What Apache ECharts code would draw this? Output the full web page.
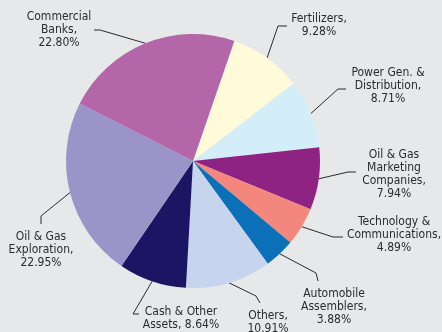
<!DOCTYPE html>
<html>
<head>
<meta charset="utf-8">
<script src="https://cdn.jsdelivr.net/npm/echarts@6/dist/echarts.min.js"></script>
<style>
html,body{margin:0;padding:0;background:#e7e8ea;}
#c{width:442px;height:332px;}
</style>
</head>
<body>
<div id="c"></div>
<script>
// Data (clockwise order starting from top-right)
const categories = ['Fertilizers', 'Power Gen. &\nDistribution', 'Oil & Gas\nMarketing\nCompanies', 'Technology &\nCommunications', 'Automobile\nAssemblers', 'Others', 'Cash & Other\nAssets', 'Oil & Gas\nExploration', 'Commercial\nBanks'];
const values = [9.28, 8.71, 7.94, 4.89, 3.88, 10.91, 8.64, 22.95, 22.80];
const valueSeparators = ['\n', '\n', '\n', '\n', '\n', '\n', ' ', '\n', '\n'];

// Styling
const colors = ['#fffbd8', '#d3eef9', '#8e2383', '#f3877d', '#0b70b8', '#c6d4ee', '#1b1563', '#9b94c8', '#b367a8'];
const labelPos = [[319, 25], [388, 86], [394, 174.5], [394, 235], [334, 307], [268, 322], [181, 318], [41, 250], [59, 30]];
const elbows = [[[278, 26], [287, 26]], [[338, 89], [346, 89]], [[348, 172], [356, 172]], [[333, 237], [343, 237]], [[316, 273], [318, 281]], [[256, 296], [260, 303]], [[133, 314], [139, 314]], [[41, 216], [41, 224]], [[100, 30], [94, 30]]];

// pick a condensed font that is installed
function hasFont(name) {
  const c = document.createElement('canvas').getContext('2d');
  const s = 'Commercial Banks 22.80%';
  c.font = '20px monospace';
  const w1 = c.measureText(s).width;
  c.font = '20px "' + name + '", monospace';
  const w2 = c.measureText(s).width;
  return Math.abs(w1 - w2) > 0.5;
}
let fontFamily = '"DejaVu Sans Condensed", sans-serif';
let fontSize = 12;
if (hasFont('Liberation Sans Narrow')) {
  fontFamily = '"Liberation Sans Narrow", sans-serif';
  fontSize = 14;
}

const chart = echarts.init(document.getElementById('c'));
chart.setOption({
  backgroundColor: '#e7e8ea',
  animation: false,
  series: [{
    type: 'pie',
    center: [193, 161],
    radius: 127,
    startAngle: 71,
    clockwise: true,
    avoidLabelOverlap: false,
    data: values.map((v, i) => ({ name: categories[i], value: v, itemStyle: { color: colors[i] } })),
    itemStyle: { borderWidth: 0 },
    label: {
      show: true,
      position: 'outside',
      formatter: p => p.name + ',' + valueSeparators[p.dataIndex] + p.value.toFixed(2) + '%',
      fontFamily: fontFamily,
      fontSize: fontSize,
      lineHeight: 13,
      color: '#2b2b2b',
      align: 'center'
    },
    labelLine: { show: true, lineStyle: { color: '#2b2b2b', width: 1 } },
    labelLayout: function (params) {
      const i = params.dataIndex;
      const start = params.labelLinePoints ? params.labelLinePoints[0] : null;
      const res = {
        x: labelPos[i][0],
        y: labelPos[i][1],
        align: 'center',
        verticalAlign: 'middle'
      };
      if (start) res.labelLinePoints = [start, elbows[i][0], elbows[i][1]];
      return res;
    }
  }]
});
</script>
</body>
</html>
